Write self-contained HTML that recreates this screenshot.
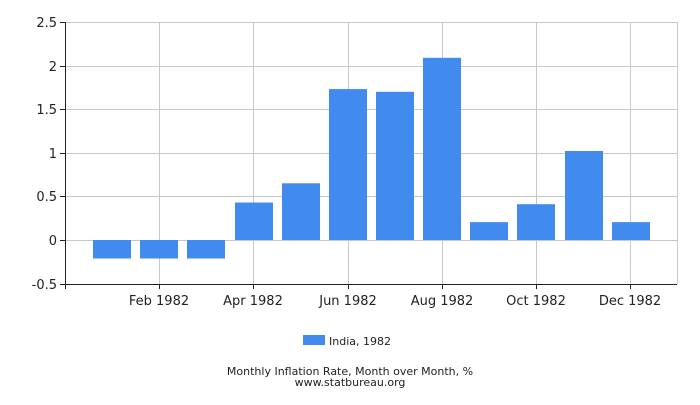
<!DOCTYPE html>
<html><head><meta charset="utf-8"><style>
body{margin:0;background:#fff;}
svg text{font-family:"DejaVu Sans",sans-serif;fill:#222;}
</style></head><body>
<svg width="700" height="400" xmlns="http://www.w3.org/2000/svg">
<g stroke="#c8c8c8" stroke-width="1">
<line x1="66" y1="22.5" x2="677" y2="22.5"/>
<line x1="66" y1="66.5" x2="677" y2="66.5"/>
<line x1="66" y1="109.5" x2="677" y2="109.5"/>
<line x1="66" y1="153.5" x2="677" y2="153.5"/>
<line x1="66" y1="196.5" x2="677" y2="196.5"/>
<line x1="66" y1="240.5" x2="677" y2="240.5"/>
<line x1="66" y1="284.5" x2="677" y2="284.5"/>
<line x1="159.5" y1="22" x2="159.5" y2="284"/>
<line x1="253.5" y1="22" x2="253.5" y2="284"/>
<line x1="348.5" y1="22" x2="348.5" y2="284"/>
<line x1="442.5" y1="22" x2="442.5" y2="284"/>
<line x1="536.5" y1="22" x2="536.5" y2="284"/>
<line x1="630.5" y1="22" x2="630.5" y2="284"/>
<line x1="677.5" y1="22" x2="677.5" y2="284"/>
</g>
<g fill="#418bef">
<rect x="93" y="240" width="38" height="18.5"/>
<rect x="140" y="240" width="38" height="18.5"/>
<rect x="187" y="240" width="38" height="18.5"/>
<rect x="235" y="202.5" width="38" height="37.5"/>
<rect x="282" y="183.3" width="38" height="56.7"/>
<rect x="329" y="89.1" width="38" height="150.9"/>
<rect x="376" y="91.8" width="38" height="148.2"/>
<rect x="423" y="57.8" width="38" height="182.2"/>
<rect x="470" y="222.1" width="38" height="17.9"/>
<rect x="517" y="204.2" width="38" height="35.8"/>
<rect x="565" y="151" width="38" height="89"/>
<rect x="612" y="222.1" width="38" height="17.9"/>
</g>
<g stroke="#222" stroke-width="1">
<line x1="65.5" y1="22" x2="65.5" y2="285"/>
<line x1="65" y1="284.5" x2="677" y2="284.5"/>
<line x1="60" y1="22.5" x2="66" y2="22.5"/>
<line x1="60" y1="66.5" x2="66" y2="66.5"/>
<line x1="60" y1="109.5" x2="66" y2="109.5"/>
<line x1="60" y1="153.5" x2="66" y2="153.5"/>
<line x1="60" y1="196.5" x2="66" y2="196.5"/>
<line x1="60" y1="240.5" x2="66" y2="240.5"/>
<line x1="60" y1="284.5" x2="66" y2="284.5"/>
<line x1="65.5" y1="284" x2="65.5" y2="289"/>
<line x1="159.5" y1="284" x2="159.5" y2="289"/>
<line x1="253.5" y1="284" x2="253.5" y2="289"/>
<line x1="348.5" y1="284" x2="348.5" y2="289"/>
<line x1="442.5" y1="284" x2="442.5" y2="289"/>
<line x1="536.5" y1="284" x2="536.5" y2="289"/>
<line x1="630.5" y1="284" x2="630.5" y2="289"/>
</g>
<g font-size="13" text-anchor="end">
<text x="57" y="27">2.5</text>
<text x="57" y="71">2</text>
<text x="57" y="114">1.5</text>
<text x="57" y="158">1</text>
<text x="57" y="201">0.5</text>
<text x="57" y="245">0</text>
<text x="57" y="289">-0.5</text>
</g>
<g font-size="13" text-anchor="middle">
<text x="159" y="305">Feb 1982</text>
<text x="253" y="305">Apr 1982</text>
<text x="348" y="305">Jun 1982</text>
<text x="442" y="305">Aug 1982</text>
<text x="536" y="305">Oct 1982</text>
<text x="630" y="305">Dec 1982</text>
</g>
<rect x="303" y="335" width="22" height="10" fill="#418bef"/>
<text x="329" y="345" font-size="11">India, 1982</text>
<text x="350" y="375" font-size="11" text-anchor="middle">Monthly Inflation Rate, Month over Month, %</text>
<text x="350" y="386" font-size="11" text-anchor="middle">www.statbureau.org</text>
</svg>
</body></html>
